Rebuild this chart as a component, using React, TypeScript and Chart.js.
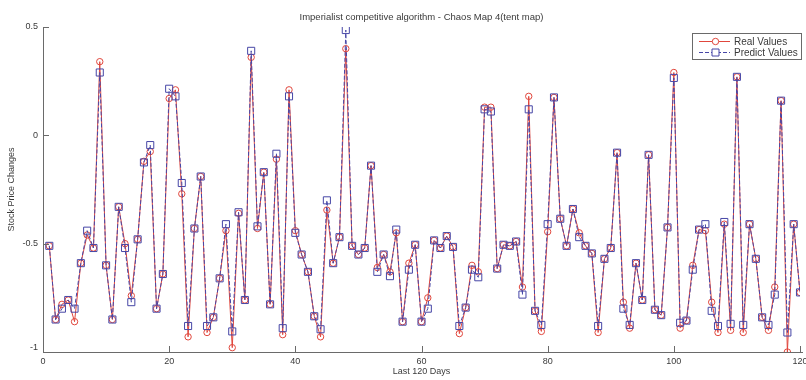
import React, { useEffect, useRef } from "react";
import { Chart, registerables } from "chart.js";

Chart.register(...registerables);

const TITLE = "Imperialist competitive algorithm - Chaos Map 4(tent map)";
const X_LABEL = "Last 120 Days";
const Y_LABEL = "Stock Price Changes";
const X_TICKS = [0, 20, 40, 60, 80, 100, 120];
const Y_TICKS = [0.5, 0, -0.5, -1];
const Y_TICK_LABELS = ["0.5", "0", "-0.5", "-1"];

const DAYS = Array.from({ length: 120 }, (_, i) => i + 1);

const REAL = [
  -0.51, -0.85, -0.78, -0.76, -0.86, -0.59, -0.46, -0.52, 0.34, -0.6,
  -0.85, -0.33, -0.5, -0.74, -0.48, -0.12, -0.075, -0.8, -0.64, 0.17,
  0.21, -0.27, -0.93, -0.43, -0.19, -0.91, -0.84, -0.66, -0.44, -0.98,
  -0.36, -0.76, 0.36, -0.43, -0.17, -0.78, -0.11, -0.92, 0.21, -0.44,
  -0.55, -0.63, -0.835, -0.93, -0.345, -0.59, -0.47, 0.4, -0.51, -0.55,
  -0.52, -0.14, -0.61, -0.55, -0.63, -0.45, -0.86, -0.59, -0.505, -0.86,
  -0.75, -0.485, -0.52, -0.465, -0.515, -0.915, -0.795, -0.6, -0.63, 0.13,
  0.13, -0.615, -0.505, -0.51, -0.49, -0.7, 0.18, -0.81, -0.905, -0.445,
  0.175, -0.385, -0.51, -0.34, -0.45, -0.51, -0.545, -0.91, -0.57, -0.52,
  -0.08, -0.77, -0.89, -0.59, -0.76, -0.09, -0.805, -0.83, -0.425, 0.29,
  -0.89, -0.855, -0.6, -0.435, -0.44, -0.77, -0.91, -0.41, -0.9, 0.27,
  -0.91, -0.41, -0.57, -0.84, -0.9, -0.7, 0.16, -1.0, -0.41, -0.725,
];

const PREDICT = [
  -0.51, -0.85, -0.8, -0.76, -0.8, -0.59, -0.44, -0.52, 0.29, -0.6,
  -0.85, -0.33, -0.52, -0.77, -0.48, -0.125, -0.045, -0.8, -0.64, 0.215,
  0.18, -0.22, -0.88, -0.43, -0.19, -0.88, -0.84, -0.66, -0.41, -0.905,
  -0.355, -0.76, 0.39, -0.42, -0.17, -0.78, -0.085, -0.89, 0.18, -0.45,
  -0.55, -0.63, -0.835, -0.895, -0.3, -0.59, -0.47, 0.486, -0.51, -0.55,
  -0.52, -0.14, -0.63, -0.55, -0.65, -0.435, -0.86, -0.62, -0.505, -0.86,
  -0.8, -0.485, -0.52, -0.465, -0.515, -0.88, -0.795, -0.62, -0.655, 0.12,
  0.11, -0.615, -0.505, -0.51, -0.49, -0.735, 0.12, -0.81, -0.875, -0.41,
  0.175, -0.385, -0.51, -0.34, -0.47, -0.51, -0.545, -0.88, -0.57, -0.52,
  -0.08, -0.8, -0.875, -0.59, -0.76, -0.09, -0.805, -0.83, -0.425, 0.265,
  -0.865, -0.855, -0.62, -0.435, -0.41, -0.81, -0.88, -0.4, -0.87, 0.27,
  -0.875, -0.41, -0.57, -0.84, -0.875, -0.735, 0.16, -0.91, -0.41, -0.725,
];

const RED = "#e0463c";
const BLUE = "#4646a6";
const AXIS = "#6a6a6a";
const TEXT = "#3a3a3a";
const FONT = "Liberation Sans, Arial, sans-serif";

const decorPlugin = {
  id: "matlabDecor",
  afterDraw(chart: any) {
    const ctx = chart.ctx;
    const xs = chart.scales.x;
    const ys = chart.scales.y;
    const ca = chart.chartArea;
    ctx.save();
    // axis lines
    ctx.strokeStyle = AXIS;
    ctx.lineWidth = 1;
    ctx.beginPath();
    ctx.moveTo(ca.left + 0.5, ca.top);
    ctx.lineTo(ca.left + 0.5, ca.bottom + 0.5);
    ctx.lineTo(ca.right + 3, ca.bottom + 0.5);
    ctx.stroke();
    // ticks
    ctx.beginPath();
    X_TICKS.forEach((v) => {
      const px = Math.round(xs.getPixelForValue(v)) + 0.5;
      ctx.moveTo(px, ca.bottom);
      ctx.lineTo(px, ca.bottom - 6);
    });
    Y_TICKS.forEach((v) => {
      const py = Math.round(ys.getPixelForValue(v)) + 0.5;
      ctx.moveTo(ca.left, py);
      ctx.lineTo(ca.left + 6, py);
    });
    ctx.stroke();
    // tick labels
    ctx.fillStyle = TEXT;
    ctx.font = `9px ${FONT}`;
    ctx.textAlign = "center";
    ctx.textBaseline = "middle";
    X_TICKS.forEach((v) => {
      ctx.fillText(String(v), xs.getPixelForValue(v), ca.bottom + 10);
    });
    ctx.textAlign = "right";
    Y_TICKS.forEach((v, i) => {
      const py = ys.getPixelForValue(v);
      ctx.fillText(Y_TICK_LABELS[i], ca.left - 5, i === Y_TICKS.length - 1 ? py - 4 : py);
    });
    // axis titles
    ctx.textAlign = "center";
    ctx.fillText(X_LABEL, (ca.left + ca.right) / 2, ca.bottom + 20);
    ctx.font = `9.5px ${FONT}`;
    ctx.fillText(TITLE, (ca.left + ca.right) / 2, 17);
    ctx.font = `9px ${FONT}`;
    ctx.save();
    ctx.translate(12, (ca.top + ca.bottom) / 2);
    ctx.rotate(-Math.PI / 2);
    ctx.fillText(Y_LABEL, 0, 0);
    ctx.restore();
    // legend
    const lx = 692, ly = 33, lw = 109, lh = 26;
    ctx.fillStyle = "#ffffff";
    ctx.fillRect(lx, ly, lw, lh);
    ctx.strokeStyle = AXIS;
    ctx.strokeRect(lx + 0.5, ly + 0.5, lw, lh);
    const rows = [
      { label: "Real Values", color: RED, dash: [] as number[], marker: "circle", y: ly + 8 },
      { label: "Predict Values", color: BLUE, dash: [4, 2], marker: "rect", y: ly + 19 },
    ];
    rows.forEach((r) => {
      ctx.strokeStyle = r.color;
      ctx.setLineDash(r.dash);
      ctx.beginPath();
      ctx.moveTo(lx + 7, r.y + 0.5);
      ctx.lineTo(lx + 38, r.y + 0.5);
      ctx.stroke();
      ctx.setLineDash([]);
      ctx.beginPath();
      if (r.marker === "circle") {
        ctx.arc(lx + 23.5, r.y + 0.5, 3.2, 0, Math.PI * 2);
      } else {
        ctx.rect(lx + 20, r.y - 3, 7, 7);
      }
      ctx.fillStyle = "#ffffff";
      ctx.fill();
      ctx.stroke();
      ctx.fillStyle = TEXT;
      ctx.textAlign = "left";
      ctx.font = `10px ${FONT}`;
      ctx.fillText(r.label, lx + 42, r.y + 1);
    });
    ctx.restore();
  },
};

export default function App() {
  const ref = useRef<HTMLCanvasElement | null>(null);
  useEffect(() => {
    if (!ref.current) return;
    const chart = new Chart(ref.current, {
      type: "line",
      data: {
        datasets: [
          {
            label: "Predict Values",
            data: DAYS.map((d, i) => ({ x: d, y: PREDICT[i] })),
            borderColor: BLUE,
            borderWidth: 1,
            borderDash: [4, 2],
            pointStyle: "rect",
            pointRadius: 5,
            pointBorderColor: BLUE,
            pointBackgroundColor: "rgba(0,0,0,0)",
            pointBorderWidth: 1,
            fill: false,
            tension: 0,
            order: 0,
          },
          {
            label: "Real Values",
            data: DAYS.map((d, i) => ({ x: d, y: REAL[i] })),
            borderColor: RED,
            borderWidth: 1,
            pointStyle: "circle",
            pointRadius: 3.2,
            pointBorderColor: RED,
            pointBackgroundColor: "rgba(0,0,0,0)",
            pointBorderWidth: 1,
            fill: false,
            tension: 0,
            order: 1,
          },
        ],
      },
      options: {
        animation: false,
        responsive: false,
        events: [],
        layout: { padding: { top: 27, right: 3, bottom: 0, left: 0 } },
        plugins: {
          legend: { display: false },
          title: { display: false },
          tooltip: { enabled: false },
        },
        scales: {
          x: {
            type: "linear",
            min: 0,
            max: 120,
            grid: { display: false },
            border: { display: false },
            ticks: { display: false },
            afterFit: (s: any) => {
              s.height = 28;
              s.paddingLeft = 0;
              s.paddingRight = 0;
            },
          },
          y: {
            type: "linear",
            min: -1,
            max: 0.5,
            grid: { display: false },
            border: { display: false },
            ticks: { display: false },
            afterFit: (s: any) => {
              s.width = 43;
              s.paddingTop = 0;
              s.paddingBottom = 0;
            },
          },
        },
      },
      plugins: [decorPlugin],
    });
    return () => chart.destroy();
  }, []);
  return (
    <div style={{ position: "absolute", left: 0, top: 0, width: 806, height: 380, background: "#fff" }}>
      <canvas ref={ref} width={806} height={380} style={{ display: "block" }} />
    </div>
  );
}
